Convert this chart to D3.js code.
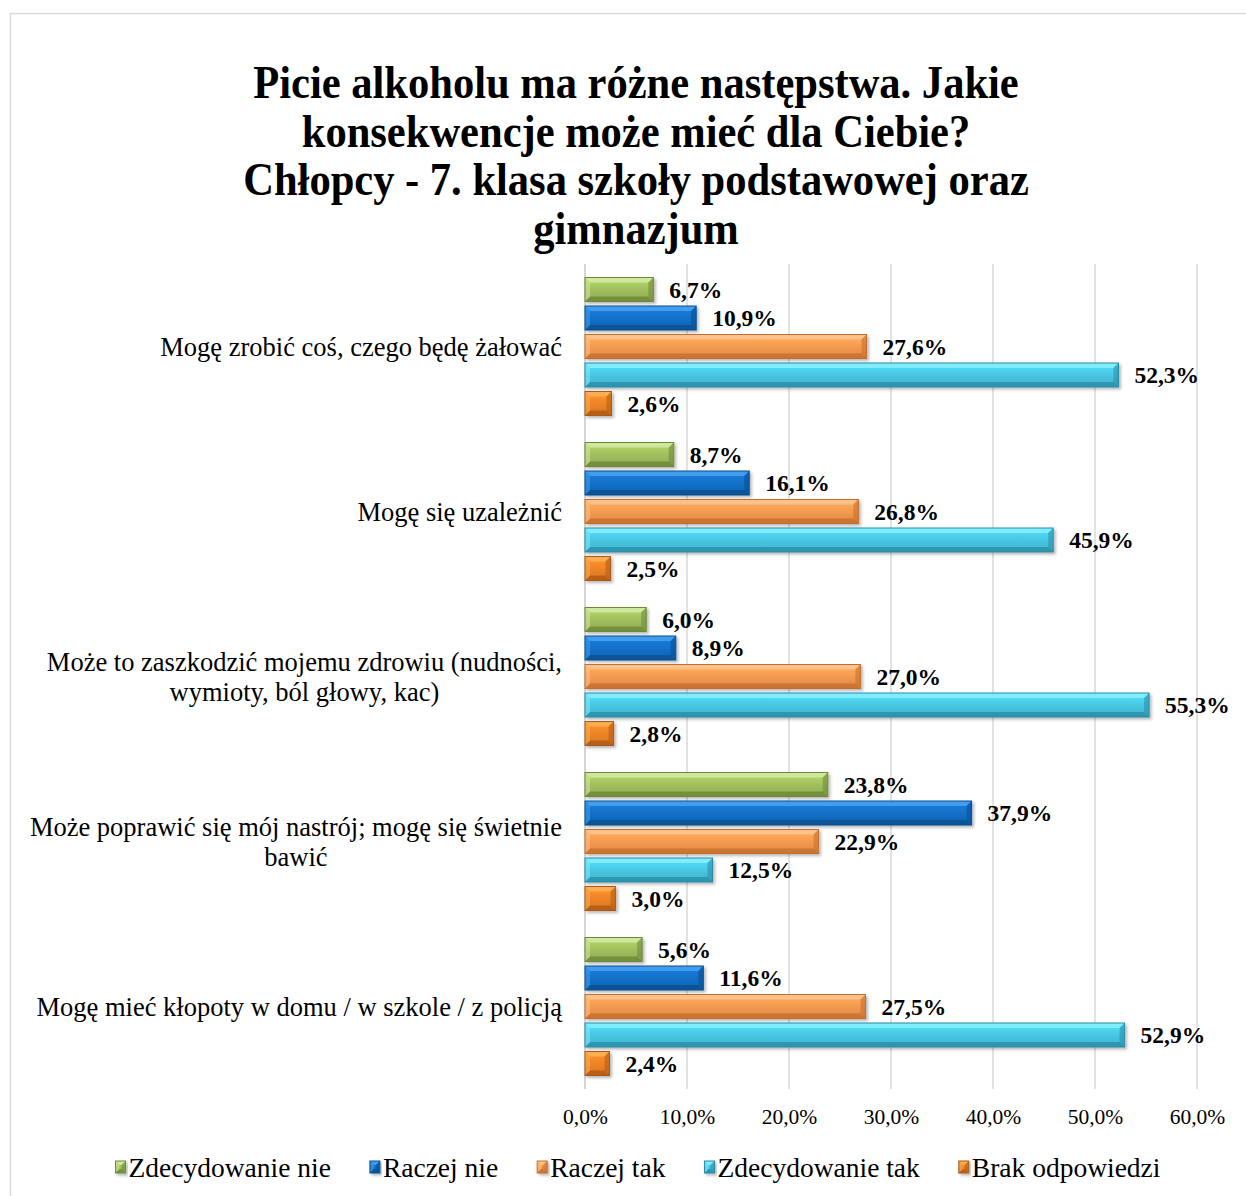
<!DOCTYPE html>
<html>
<head>
<meta charset="utf-8">
<script src="https://cdn.jsdelivr.net/npm/d3@7"></script>
<style>
  html, body { margin: 0; padding: 0; background: #fff; }
  svg { display: block; font-family: "Liberation Serif", "Times New Roman", serif; }
</style>
</head>
<body>
<script>
// ---------------- DATA ----------------
const titleLines = [
  "Picie alkoholu ma różne następstwa. Jakie",
  "konsekwencje może mieć dla Ciebie?",
  "Chłopcy - 7. klasa szkoły podstawowej oraz",
  "gimnazjum"
];
const categories = [
  "Mogę zrobić coś, czego będę żałować",
  "Mogę się uzależnić",
  "Może to zaszkodzić mojemu zdrowiu (nudności, wymioty, ból głowy, kac)",
  "Może poprawić się mój nastrój; mogę się świetnie bawić",
  "Mogę mieć kłopoty w domu / w szkole / z policją"
];
const seriesNames = ["Zdecydowanie nie", "Raczej nie", "Raczej tak", "Zdecydowanie tak", "Brak odpowiedzi"];
const zdecydowanieNie = [6.7, 8.7, 6.0, 23.8, 5.6];
const raczejNie       = [10.9, 16.1, 8.9, 37.9, 11.6];
const raczejTak       = [27.6, 26.8, 27.0, 22.9, 27.5];
const zdecydowanieTak = [52.3, 45.9, 55.3, 12.5, 52.9];
const brakOdpowiedzi  = [2.6, 2.5, 2.8, 3.0, 2.4];
const xTicks = [0, 10, 20, 30, 40, 50, 60];

const seriesValues = [zdecydowanieNie, raczejNie, raczejTak, zdecydowanieTak, brakOdpowiedzi];

// colours: [base, light (top bevel), dark (bottom bevel), stroke]
const palette = [
  ["#a0c05e", "#d6eaa8", "#6f8a3a", "#6b8a3a"],
  ["#1270c8", "#4aa3ee", "#084f92", "#0a4f8e"],
  ["#f59a50", "#fcc594", "#c9702c", "#c36e2e"],
  ["#48c6e2", "#8aeeff", "#2a91ab", "#2b8aa3"],
  ["#ee8426", "#fbb25a", "#b35d16", "#a85a1c"]
];

// ---------------- LAYOUT ----------------
const W = 1246, H = 1196;
const plotLeft = 585, plotRight = 1197, plotTop = 264, plotBottom = 1089;

const svg = d3.select("body").append("svg").attr("width", W).attr("height", H);

const defs = svg.append("defs");
palette.forEach((p, i) => {
  const g = defs.append("linearGradient").attr("id", "grad" + i)
    .attr("x1", 0).attr("y1", 0).attr("x2", 0).attr("y2", 1);
  g.append("stop").attr("offset", "0%").attr("stop-color", d3.color(p[0]).brighter(0.4));
  g.append("stop").attr("offset", "50%").attr("stop-color", p[0]);
  g.append("stop").attr("offset", "100%").attr("stop-color", d3.color(p[0]).darker(0.3));
});
const shadow = defs.append("filter").attr("id", "shadow")
  .attr("x", "-10%").attr("y", "-30%").attr("width", "130%").attr("height", "180%");
shadow.append("feDropShadow").attr("dx", 2).attr("dy", 2).attr("stdDeviation", 1.6)
  .attr("flood-color", "#000").attr("flood-opacity", 0.28);

// chart border
svg.append("rect").attr("x", 10.5).attr("y", 13.5).attr("width", 1260).attr("height", 1220)
  .attr("fill", "#fff").attr("stroke", "#d9d9d9").attr("stroke-width", 1.5);

// title (slightly condensed, taller glyphs)
svg.append("g").selectAll("text").data(titleLines).join("text")
  .attr("transform", (d, i) => `translate(636,${98 + i * 48.5}) scale(0.915,1)`)
  .attr("text-anchor", "middle")
  .attr("font-size", 46.5).attr("font-weight", "bold").attr("fill", "#000")
  .text(d => d);

// scales
const x = d3.scaleLinear().domain([0, 60]).range([plotLeft, plotRight]);
const y0 = d3.scaleBand().domain(categories).range([plotTop, plotBottom]);
const y1 = d3.scaleBand().domain(seriesNames).range([0, y0.bandwidth()])
  .paddingInner(0.158).paddingOuter(0.474);

// gridlines
svg.append("g").selectAll("line").data(xTicks).join("line")
  .attr("x1", d => x(d)).attr("x2", d => x(d))
  .attr("y1", plotTop).attr("y2", plotBottom)
  .attr("stroke", "#d9d9d9").attr("stroke-width", 1.5);

// x axis tick labels (via d3 axis)
const xAxis = d3.axisBottom(x).tickValues(xTicks)
  .tickFormat(d => d3.format(".1f")(d).replace(".", ",") + "%")
  .tickSize(0).tickPadding(0);
const axG = svg.append("g").attr("transform", `translate(0,${plotBottom})`).call(xAxis);
axG.select(".domain").remove();
axG.selectAll("text").attr("font-size", 21.5).attr("font-family", "Liberation Serif")
  .attr("fill", "#000").attr("dy", null).attr("y", 35);

// category labels (wrapped, centered block right-aligned at 562)
const catG = svg.append("g");
const labelRight = 562, maxLabelW = 560, lineH = 30, catFont = 26.5;
categories.forEach((c) => {
  const t = catG.append("text").attr("font-size", catFont).attr("fill", "#000").attr("text-anchor", "middle");
  const words = c.split(" ");
  const lines = [];
  let cur = [];
  const probe = catG.append("text").attr("font-size", catFont);
  words.forEach(w => {
    const test = cur.concat([w]).join(" ");
    probe.text(test);
    if (probe.node().getComputedTextLength() > maxLabelW && cur.length) {
      lines.push(cur.join(" "));
      cur = [w];
    } else cur.push(w);
  });
  lines.push(cur.join(" "));
  let maxW = 0;
  lines.forEach(l => { probe.text(l); maxW = Math.max(maxW, probe.node().getComputedTextLength()); });
  probe.remove();
  const cy = y0(c) + y0.bandwidth() / 2;
  const cx = labelRight - maxW / 2;
  lines.forEach((l, i) => {
    t.append("tspan").attr("x", cx)
      .attr("y", cy + (i - (lines.length - 1) / 2) * lineH)
      .attr("dy", "0.35em").text(l);
  });
});

// axis line (vertical at 0)
svg.append("line").attr("x1", x(0)).attr("x2", x(0)).attr("y1", plotTop).attr("y2", plotBottom)
  .attr("stroke", "#d0d0d0").attr("stroke-width", 1.5);

// bevelled bar drawing
function bevelBar(g, x0, yTop, w, h, si) {
  const p = palette[si];
  const b = Math.min(5, w / 2, h / 3);
  const x1 = x0 + w, y2 = yTop + h;
  const bg = g.append("g").attr("filter", "url(#shadow)");
  bg.append("rect").attr("x", x0).attr("y", yTop).attr("width", w).attr("height", h)
    .attr("fill", `url(#grad${si})`);
  bg.append("path").attr("d", `M${x0},${yTop}L${x1},${yTop}L${x1 - b},${yTop + b}L${x0 + b},${yTop + b}Z`)
    .attr("fill", p[1]).attr("opacity", 0.85);
  bg.append("path").attr("d", `M${x0},${y2}L${x1},${y2}L${x1 - b},${y2 - b}L${x0 + b},${y2 - b}Z`)
    .attr("fill", p[2]).attr("opacity", 0.85);
  bg.append("path").attr("d", `M${x0},${yTop}L${x0 + b},${yTop + b}L${x0 + b},${y2 - b}L${x0},${y2}Z`)
    .attr("fill", p[1]).attr("opacity", 0.5);
  bg.append("path").attr("d", `M${x1},${yTop}L${x1 - b},${yTop + b}L${x1 - b},${y2 - b}L${x1},${y2}Z`)
    .attr("fill", p[2]).attr("opacity", 0.6);
  bg.append("rect").attr("x", x0).attr("y", yTop).attr("width", w).attr("height", h)
    .attr("fill", "none").attr("stroke", p[3]).attr("stroke-width", 1);
}

// bars + labels
const barsG = svg.append("g");
const labelsG = svg.append("g");
categories.forEach((c, ci) => {
  seriesNames.forEach((s, si) => {
    const v = seriesValues[si][ci];
    const yy = y0(c) + y1(s);
    const h = y1.bandwidth();
    bevelBar(barsG, x(0), yy, x(v) - x(0), h, si);
    labelsG.append("text")
      .attr("x", x(v) + 16).attr("y", yy + h / 2).attr("dy", "0.35em")
      .attr("font-size", 23.5).attr("font-weight", "bold").attr("fill", "#000")
      .text(d3.format(".1f")(v).replace(".", ",") + "%");
  });
});

// legend
const legG = svg.append("g");
const legY = 1167, markerW = 10, markerH = 12, markerGap = 3, itemGap = 39;
const legItems = seriesNames.map((name, i) => {
  const it = legG.append("g");
  bevelBar(it, 0, -markerH / 2, markerW, markerH, i);
  const t = it.append("text").attr("x", markerW + markerGap).attr("y", 0).attr("dy", "0.35em")
    .attr("font-size", 27.5).attr("fill", "#000").text(name);
  const w = markerW + markerGap + t.node().getComputedTextLength();
  return { it, w };
});
const totalW = d3.sum(legItems, d => d.w) + itemGap * (legItems.length - 1);
let lx = 638 - totalW / 2;
legItems.forEach(d => {
  d.it.attr("transform", `translate(${lx},${legY})`);
  lx += d.w + itemGap;
});
</script>
</body>
</html>
